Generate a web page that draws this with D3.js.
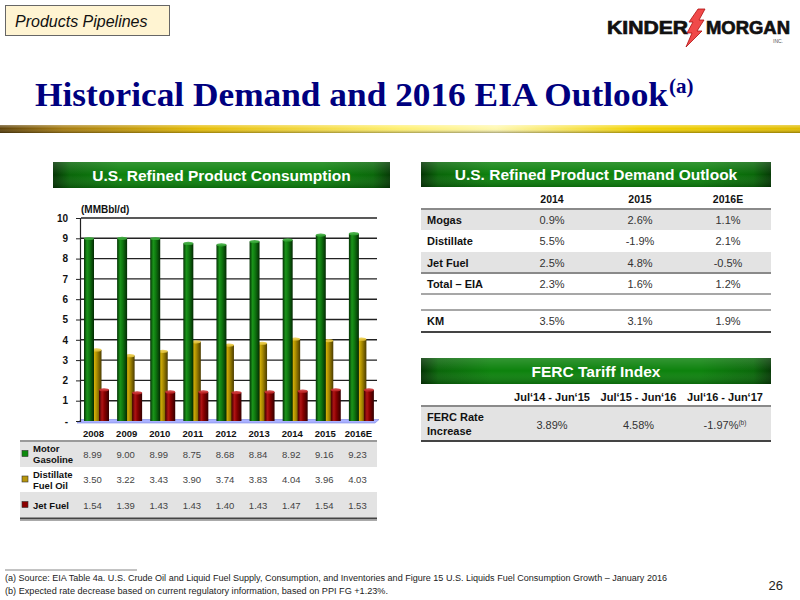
<!DOCTYPE html>
<html><head><meta charset="utf-8">
<script src="https://cdn.jsdelivr.net/npm/d3@7"></script>
<style>body{margin:0;background:#fff}svg{display:block}</style>
</head><body>
<svg id="c" width="800" height="600"></svg>
<script>
// ---------- data ----------
const years = ["2008","2009","2010","2011","2012","2013","2014","2015","2016E"];
const motorGasoline = [8.99,9.00,8.99,8.75,8.68,8.84,8.92,9.16,9.23];
const distillateFuelOil = [3.50,3.22,3.43,3.90,3.74,3.83,4.04,3.96,4.03];
const jetFuel = [1.54,1.39,1.43,1.43,1.40,1.43,1.47,1.54,1.53];
const seriesNames = [["Motor","Gasoline"],["Distillate","Fuel Oil"],["Jet Fuel"]];
const yTicks = [0,1,2,3,4,5,6,7,8,9,10];

const outlookCols = ["2014","2015","2016E"];
const outlookLabels = ["Mogas","Distillate","Jet Fuel","Total \u2013 EIA","KM"];
const outlookValues = [
  ["0.9%","2.6%","1.1%"],
  ["5.5%","-1.9%","2.1%"],
  ["2.5%","4.8%","-0.5%"],
  ["2.3%","1.6%","1.2%"],
  ["3.5%","3.1%","1.9%"]
];
const fercCols = ["Jul\u201814 - Jun\u201815","Jul\u201815 - Jun\u201816","Jul\u201816 - Jun\u201817"];
const fercValues = ["3.89%","4.58%","-1.97%"];

// ---------- setup ----------
const svg = d3.select("#c");
const defs = svg.append("defs");
const F = "Arial, 'Liberation Sans', sans-serif";

function hgrad(id, stops){
  const g = defs.append("linearGradient").attr("id",id).attr("x1","0").attr("x2","1").attr("y1","0").attr("y2","0");
  stops.forEach(s=>g.append("stop").attr("offset",s[0]).attr("stop-color",s[1]));
}
function vgrad(id, stops){
  const g = defs.append("linearGradient").attr("id",id).attr("x1","0").attr("x2","0").attr("y1","0").attr("y2","1");
  stops.forEach(s=>g.append("stop").attr("offset",s[0]).attr("stop-color",s[1]).attr("stop-opacity",s[2]===undefined?1:s[2]));
}
hgrad("gGreen",[[0,"#043204"],[0.3,"#1a941a"],[0.55,"#0f780f"],[1,"#032a03"]]);
hgrad("gGold",[[0,"#5c4a00"],[0.3,"#d2ae08"],[0.55,"#a88a00"],[1,"#4a3b00"]]);
hgrad("gRed",[[0,"#3d0000"],[0.3,"#b01414"],[0.55,"#880000"],[1,"#330000"]]);
hgrad("gHdr",[[0,"#043404"],[0.05,"#0a660a"],[0.2,"#0d820d"],[0.8,"#0d820d"],[0.95,"#0a680a"],[1,"#053a05"]]);
vgrad("gHdrShade",[[0,"#ffffff",0.16],[0.5,"#ffffff",0],[1,"#000000",0.2]]);
hgrad("gGoldBar",[[0,"#5e420a"],[0.08,"#a67c10"],[0.25,"#e6bd06"],[0.5,"#fff070"],[0.62,"#fff8b0"],[0.8,"#f2d200"],[1,"#e0bb00"]]);
vgrad("gGoldShade",[[0,"#ffffff",0.35],[0.45,"#ffffff",0],[1,"#000000",0.35]]);
const barFill = ["url(#gGreen)","url(#gGold)","url(#gRed)"];
const capFill = ["#3aa83a","#e8c840","#c83030"];
const swatch = ["#0d8a0d","#b8960b","#8b0000"];

// ---------- header ----------
svg.append("rect").attr("x",5.5).attr("y",5.5).attr("width",164).attr("height",30)
  .attr("fill","#fff4d2").attr("stroke","#666").attr("stroke-width",1);
svg.append("text").attr("x",15).attr("y",27).attr("font-family",F).attr("font-style","italic")
  .attr("font-size",16).attr("fill","#111").text("Products Pipelines");

// logo
const logo = svg.append("g");
logo.append("text").attr("x",607).attr("y",34).attr("font-family",F).attr("font-weight","bold")
  .attr("font-size",19).attr("textLength",81).attr("lengthAdjust","spacingAndGlyphs")
  .attr("fill","#111").attr("stroke","#111").attr("stroke-width",0.7).text("KINDER");
logo.append("text").attr("x",706).attr("y",34).attr("font-family",F).attr("font-weight","bold")
  .attr("font-size",19).attr("textLength",84).attr("lengthAdjust","spacingAndGlyphs")
  .attr("fill","#111").attr("stroke","#111").attr("stroke-width",0.7).text("MORGAN");
logo.append("path").attr("d","M698,9 L705,9 L699,20 L704,20 L697,31 L702,31 L686,47 L692,33 L687,33 L693,22 L689,22 Z")
  .attr("fill","#f04a4a").attr("stroke","#b01010").attr("stroke-width",0.8);
logo.append("text").attr("x",783).attr("y",43).attr("text-anchor","end").attr("font-family",F)
  .attr("font-size",5).attr("fill","#555").text("INC.");

// title
const title = svg.append("text").attr("x",35).attr("y",106).attr("font-family","'Liberation Serif','Times New Roman',serif")
  .attr("font-weight","bold").attr("font-size",34).attr("fill","#00007f");
title.append("tspan").attr("textLength",633).attr("lengthAdjust","spacingAndGlyphs").text("Historical Demand and 2016 EIA Outlook");
title.append("tspan").attr("font-size",21).attr("dy",-13).attr("dx",1).text("(a)");

// gold bar
svg.append("rect").attr("x",0).attr("y",125).attr("width",800).attr("height",8).attr("fill","url(#gGoldBar)");
svg.append("rect").attr("x",0).attr("y",125).attr("width",800).attr("height",8).attr("fill","url(#gGoldShade)");

// green header boxes
function header(x,y,w,h,label){
  svg.append("rect").attr("x",x).attr("y",y).attr("width",w).attr("height",h).attr("fill","url(#gHdr)");
  svg.append("rect").attr("x",x).attr("y",y).attr("width",w).attr("height",h).attr("fill","url(#gHdrShade)");
  svg.append("text").attr("x",x+w/2).attr("y",y+h/2+5.5).attr("text-anchor","middle").attr("font-family",F)
    .attr("font-weight","bold").attr("font-size",15.5).attr("fill","#fff").text(label);
}
header(53,162,337,26,"U.S. Refined Product Consumption");
header(421,162,350,25,"U.S. Refined Product Demand Outlook");
header(421,358,350,26,"FERC Tariff Index");

// ---------- chart ----------
const x = d3.scaleBand().domain(years).range([79,377]);
const y = d3.scaleLinear().domain([0,10]).range([421,218]);
const sub = d3.scalePoint().domain([0,1,2]).range([5,20]);
const bw = 10;

const chart = svg.append("g");
// gridlines
chart.selectAll("line.grid").data(yTicks.filter(t=>t>0)).join("line")
  .attr("x1",81).attr("x2",377).attr("y1",d=>y(d)).attr("y2",d=>y(d))
  .attr("stroke","#222").attr("stroke-width",1.4);
// floor
chart.append("polygon").attr("points",`77,${y(0)+2} 375,${y(0)+2} 379,${y(0)-1.5} 81,${y(0)-1.5}`)
  .attr("fill","#aab2ff").attr("stroke","#7a84e0").attr("stroke-width",0.6);
// y axis
const yAxis = d3.axisLeft(y).tickValues(yTicks).tickSize(4).tickPadding(8)
  .tickFormat(d=>d===0?"-":d);
const ya = chart.append("g").attr("transform","translate(80,0)").call(yAxis);
ya.select(".domain").attr("stroke","#222").attr("stroke-width",1.2);
ya.selectAll(".tick line").attr("stroke","#222");
ya.selectAll("text").attr("font-family",F).attr("font-weight","bold").attr("font-size",10).attr("fill","#111");
chart.append("text").attr("x",81).attr("y",213).attr("font-family",F).attr("font-weight","bold")
  .attr("font-size",10).attr("fill","#111").text("(MMBbl/d)");

// bars (draw gold first, then green, then red)
const seriesVals = [motorGasoline, distillateFuelOil, jetFuel];
[1,0,2].forEach(si=>{
  const g = chart.append("g");
  const data = years.map((yr,i)=>({yr, v:seriesVals[si][i]}));
  g.selectAll("rect").data(data).join("rect")
    .attr("x",d=>x(d.yr)+sub(si)).attr("y",d=>y(d.v))
    .attr("width",bw).attr("height",d=>y(0)-y(d.v)).attr("fill",barFill[si]);
  g.selectAll("ellipse").data(data).join("ellipse")
    .attr("cx",d=>x(d.yr)+sub(si)+bw/2).attr("cy",d=>y(d.v))
    .attr("rx",bw/2).attr("ry",1.6).attr("fill",capFill[si]).attr("opacity",0.9);
});

// x labels
chart.selectAll("text.xl").data(years).join("text")
  .attr("x",d=>x(d)+x.bandwidth()/2-2).attr("y",437).attr("text-anchor","middle")
  .attr("font-family",F).attr("font-weight","bold").attr("font-size",9.5).attr("fill","#111").text(d=>d);

// data table
const tbl = svg.append("g");
const rowTop = [441,467,492], rowBot = [467,492,518];
[0,2].forEach(r=>tbl.append("rect").attr("x",20).attr("y",rowTop[r]).attr("width",357).attr("height",rowBot[r]-rowTop[r]).attr("fill","#e3e3e3"));
tbl.append("line").attr("x1",20).attr("x2",377).attr("y1",441).attr("y2",441).attr("stroke","#9a9a9a").attr("stroke-width",2);
tbl.append("line").attr("x1",20).attr("x2",377).attr("y1",518.5).attr("y2",518.5).attr("stroke","#444").attr("stroke-width",2);
tbl.append("line").attr("x1",20).attr("x2",377).attr("y1",520.5).attr("y2",520.5).attr("stroke","#aaa").attr("stroke-width",1);
seriesNames.forEach((nm,r)=>{
  const cy = (rowTop[r]+rowBot[r])/2;
  tbl.append("rect").attr("x",22).attr("y",cy-3.5).attr("width",6).attr("height",6)
    .attr("fill",swatch[r]).attr("stroke","#333").attr("stroke-width",0.6);
  const t = tbl.append("text").attr("font-family",F).attr("font-weight","bold").attr("font-size",9.5).attr("fill","#111");
  if(nm.length===2){
    t.append("tspan").attr("x",33).attr("y",cy-2).text(nm[0]);
    t.append("tspan").attr("x",33).attr("y",cy+9).text(nm[1]);
  } else {
    t.append("tspan").attr("x",33).attr("y",cy+3.5).text(nm[0]);
  }
  tbl.selectAll(null).data(seriesVals[r].map((v,i)=>({v,yr:years[i]}))).join("text")
    .attr("x",d=>x(d.yr)+x.bandwidth()/2-3).attr("y",cy+3.5).attr("text-anchor","middle")
    .attr("font-family",F).attr("font-size",9.5).attr("fill","#444").text(d=>d.v.toFixed(2));
});

// ---------- outlook table ----------
const colX = d3.scalePoint().domain([0,1,2]).range([552,728]);
const ot = svg.append("g");
ot.selectAll("text.h").data(outlookCols).join("text").attr("x",(d,i)=>colX(i)).attr("y",203)
  .attr("text-anchor","middle").attr("font-family",F).attr("font-weight","bold").attr("font-size",10.5).attr("fill","#111").text(d=>d);
const oRows = [[209,230],[230,252],[252,273],[273,294],[310,332]];
[0,2].forEach(r=>ot.append("rect").attr("x",421).attr("y",oRows[r][0]).attr("width",350).attr("height",oRows[r][1]-oRows[r][0]).attr("fill","#e3e3e3"));
[[209,"#8a8a8a",2],[273,"#8a8a8a",2],[294,"#8a8a8a",1.5],[310,"#8a8a8a",1.5],[332,"#444",2]].forEach(l=>
  ot.append("line").attr("x1",421).attr("x2",771).attr("y1",l[0]).attr("y2",l[0]).attr("stroke",l[1]).attr("stroke-width",l[2]));
outlookLabels.forEach((lab,r)=>{
  const cy = (oRows[r][0]+oRows[r][1])/2;
  ot.append("text").attr("x",427).attr("y",cy+4).attr("font-family",F).attr("font-weight","bold")
    .attr("font-size",11).attr("fill","#111").text(lab);
  ot.selectAll(null).data(outlookValues[r]).join("text").attr("x",(d,i)=>colX(i)).attr("y",cy+4)
    .attr("text-anchor","middle").attr("font-family",F).attr("font-size",11).attr("fill","#333").text(d=>d);
});

// ---------- FERC table ----------
const fx = d3.scalePoint().domain([0,1,2]).range([552,725]);
const ft = svg.append("g");
ft.selectAll("text.h").data(fercCols).join("text").attr("x",(d,i)=>fx(i)).attr("y",401)
  .attr("text-anchor","middle").attr("font-family",F).attr("font-weight","bold").attr("font-size",11).attr("fill","#111").text(d=>d);
ft.append("rect").attr("x",421).attr("y",406).attr("width",350).attr("height",34).attr("fill","#e3e3e3");
ft.append("line").attr("x1",421).attr("x2",771).attr("y1",406).attr("y2",406).attr("stroke","#8a8a8a").attr("stroke-width",2);
ft.append("line").attr("x1",421).attr("x2",771).attr("y1",441).attr("y2",441).attr("stroke","#444").attr("stroke-width",2);
const fl = ft.append("text").attr("font-family",F).attr("font-weight","bold").attr("font-size",11).attr("fill","#111");
fl.append("tspan").attr("x",427).attr("y",421).text("FERC Rate");
fl.append("tspan").attr("x",427).attr("y",435).text("Increase");
fercValues.forEach((v,i)=>{
  const t = ft.append("text").attr("x",fx(i)).attr("y",429).attr("text-anchor","middle")
    .attr("font-family",F).attr("font-size",11).attr("fill","#333");
  t.append("tspan").text(v);
  if(i===2) t.append("tspan").attr("font-size",6.5).attr("dy",-4).text("(b)");
});

// ---------- footnotes ----------
svg.append("line").attr("x1",5).attr("x2",137).attr("y1",570).attr("y2",570).attr("stroke","#555").attr("stroke-width",0.7);
svg.append("text").attr("x",5).attr("y",581).attr("font-family",F).attr("font-size",8.5).attr("fill","#222")
  .attr("textLength",662).attr("lengthAdjust","spacingAndGlyphs")
  .text("(a)  Source: EIA Table 4a. U.S. Crude Oil and Liquid Fuel Supply, Consumption, and Inventories and Figure 15 U.S. Liquids Fuel Consumption Growth \u2013 January 2016");
svg.append("text").attr("x",5).attr("y",594).attr("font-family",F).attr("font-size",8.5).attr("fill","#222")
  .attr("textLength",383).attr("lengthAdjust","spacingAndGlyphs")
  .text("(b)  Expected rate decrease based on current regulatory information, based on PPI FG +1.23%.");
svg.append("text").attr("x",783).attr("y",590).attr("text-anchor","end").attr("font-family",F)
  .attr("font-size",13).attr("fill","#222").text("26");
</script>
</body></html>
